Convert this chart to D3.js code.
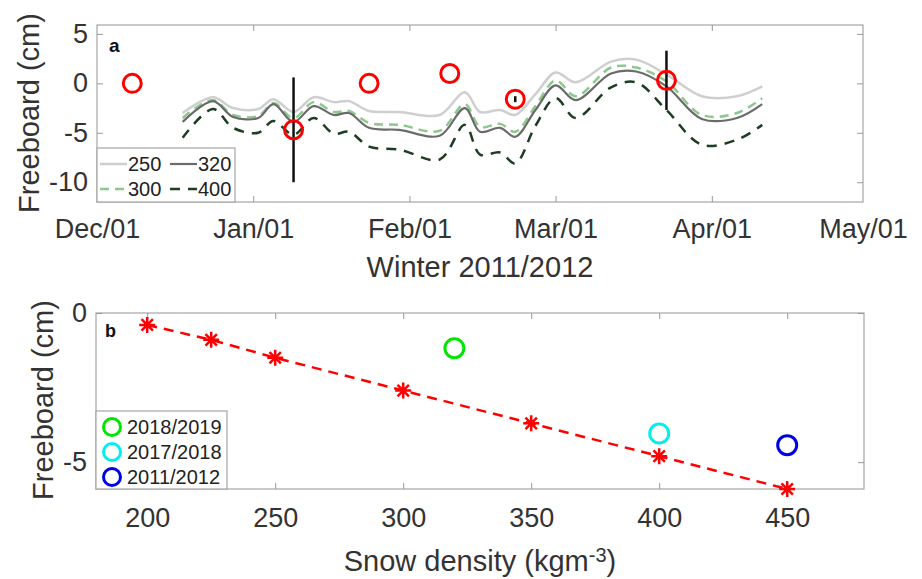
<!DOCTYPE html>
<html>
<head>
<meta charset="utf-8">
<script src="https://cdn.jsdelivr.net/npm/d3@7"></script>
<style>
  body { margin: 0; background: #fff; }
  svg { display: block; font-family: "Liberation Sans", Arial, sans-serif; }
  .tick text { fill: #333; }
  .tick line { stroke: #999; }
</style>
</head>
<body>
<svg id="chart" width="922" height="579"></svg>
<script>
// ---- panel a data ----
var dates = ["2011-12-18","2011-12-24","2011-12-28","2012-01-02","2012-01-05","2012-01-09",
  "2012-01-13","2012-01-17","2012-01-20","2012-01-24","2012-01-30","2012-02-07","2012-02-12",
  "2012-02-15","2012-02-19","2012-02-22","2012-02-26","2012-03-01","2012-03-05","2012-03-12",
  "2012-03-17","2012-03-23","2012-03-30","2012-04-06","2012-04-11"];
var fb250 = [-3.0,-1.4,-2.5,-2.6,-1.6,-2.9,-1.4,-1.9,-1.8,-2.8,-2.9,-3.2,-0.9,-2.9,-2.7,-3.2,-1.1,1.1,0.1,2.2,2.4,0.9,-1.3,-1.3,-0.3];
var fb300 = [-3.5,-1.7,-3.2,-3.3,-2.0,-3.5,-1.9,-2.9,-2.8,-4.0,-4.2,-4.8,-2.1,-4.4,-4.1,-4.9,-2.3,0.3,-1.3,1.6,1.6,0.2,-3.2,-3.0,-1.5];
var fb320 = [-3.9,-1.8,-3.4,-3.5,-2.1,-3.9,-2.3,-3.2,-3.0,-4.5,-4.7,-5.3,-2.5,-4.9,-4.5,-5.4,-2.7,-0.2,-1.7,1.0,1.2,-0.3,-3.6,-3.5,-2.1];
var fb400 = [-5.5,-2.6,-4.5,-5.0,-3.8,-5.2,-3.5,-5.1,-4.9,-6.4,-6.7,-7.7,-4.2,-7.2,-7.0,-8.1,-4.3,-1.5,-3.5,-0.4,0.1,-2.7,-6.2,-5.7,-4.2];

var obsDates = ["2011-12-08","2012-01-09","2012-01-24","2012-02-09","2012-02-22","2012-03-23"];
var obsFb = [0, -4.7, 0, 1.0, -1.6, 0.3];
var obsErr = [0, 5.3, 0, 0, 0.3, 3.0];

var monthTicks = ["2011-12-01","2012-01-01","2012-02-01","2012-03-01","2012-04-01","2012-05-01"];
var yTicksA = [5, 0, -5, -10];

// ---- panel b data ----
var densities = [200, 225, 250, 300, 350, 400, 450];
var densFb = [-0.4, -0.9, -1.5, -2.6, -3.7, -4.8, -5.9];
var seasons = ["2018/2019", "2017/2018", "2011/2012"];
var seasonDensity = [320, 400, 450];
var seasonFb = [-1.18, -4.04, -4.43];
var seasonColors = ["#00e600", "#00f0f0", "#0000e6"];
var xTicksB = [200, 250, 300, 350, 400, 450];
var yTicksB = [0, -5];

var parse = d3.timeParse("%Y-%m-%d");
var svg = d3.select("#chart");
var tickFont = 27;
var num = d => String(d); // plain hyphen minus, like the figure

function box(g, x0, x1, y0, y1) {
  g.append("rect")
    .attr("x", x0).attr("y", y0)
    .attr("width", x1 - x0).attr("height", y1 - y0)
    .attr("fill", "none").attr("stroke", "#a6a6a6").attr("stroke-width", 1.2);
}

// ================= panel a =================
var xa = d3.scaleTime()
  .domain([parse("2011-12-01"), parse("2012-05-01")])
  .range([97, 863]);
var ya = d3.scaleLinear().domain([-12, 5.9]).range([202, 25]);

var pa = svg.append("g");
box(pa, 97, 863, 25, 202);

var mt = monthTicks.map(parse);
var inner = mt.slice(1, -1);

pa.append("g").attr("transform", "translate(0,202)")
  .call(d3.axisBottom(xa).tickValues(mt).tickFormat(d3.timeFormat("%b/%d")).tickSize(-6).tickSizeOuter(0).tickPadding(17))
  .call(g => g.select(".domain").remove())
  .call(g => g.selectAll(".tick line").filter(d => inner.map(Number).indexOf(+d) < 0).remove())
  .selectAll("text").attr("font-size", tickFont);
pa.append("g").attr("transform", "translate(0,25)")
  .call(d3.axisTop(xa).tickValues(inner).tickFormat("").tickSize(-6).tickSizeOuter(0))
  .call(g => g.select(".domain").remove());
pa.append("g").attr("transform", "translate(97,0)")
  .call(d3.axisLeft(ya).tickValues(yTicksA).tickFormat(num).tickSize(-6).tickSizeOuter(0).tickPadding(9))
  .call(g => g.select(".domain").remove())
  .selectAll("text").attr("font-size", tickFont);
pa.append("g").attr("transform", "translate(863,0)")
  .call(d3.axisRight(ya).tickValues(yTicksA).tickFormat("").tickSize(-6).tickSizeOuter(0))
  .call(g => g.select(".domain").remove());

var seriesA = [
  {name: "250", vals: fb250, color: "#cfcfcf", dash: null, w: 2.5},
  {name: "300", vals: fb300, color: "#8fc88f", dash: "9,6", w: 2.5},
  {name: "320", vals: fb320, color: "#6b6b6b", dash: null, w: 2.2},
  {name: "400", vals: fb400, color: "#1f3d22", dash: "10,8", w: 2.5}
];
var ds = dates.map(parse);
var lineA = d3.line()
  .x((d, i) => xa(ds[i]))
  .y(d => ya(d))
  .curve(d3.curveCatmullRom.alpha(0.5));

pa.selectAll(".series")
  .data(seriesA)
  .enter().append("path")
  .attr("class", "series")
  .attr("d", d => lineA(d.vals))
  .attr("fill", "none")
  .attr("stroke", d => d.color)
  .attr("stroke-width", d => d.w)
  .attr("stroke-dasharray", d => d.dash);

var obs = obsDates.map((d, i) => ({date: parse(d), fb: obsFb[i], err: obsErr[i]}));
pa.selectAll(".err")
  .data(obs.filter(d => d.err > 0))
  .enter().append("line")
  .attr("x1", d => xa(d.date)).attr("x2", d => xa(d.date))
  .attr("y1", d => ya(d.fb + d.err)).attr("y2", d => ya(d.fb - d.err))
  .attr("stroke", "#111").attr("stroke-width", 2.5);
pa.selectAll(".obs")
  .data(obs)
  .enter().append("circle")
  .attr("cx", d => xa(d.date)).attr("cy", d => ya(d.fb))
  .attr("r", 9)
  .attr("fill", "none").attr("stroke", "#f00").attr("stroke-width", 3);

pa.append("text").attr("x", 109).attr("y", 52)
  .attr("font-size", 19).attr("font-weight", "bold").attr("fill", "#111").text("a");

// legend a
var lega = pa.append("g");
lega.append("rect").attr("x", 97).attr("y", 148).attr("width", 138).attr("height", 54)
  .attr("fill", "#fff").attr("stroke", "#a6a6a6").attr("stroke-width", 1.2);
var legOrder = [seriesA[0], seriesA[2], seriesA[1], seriesA[3]];
legOrder.forEach(function(s, i) {
  var cx = 100 + (i % 2) * 70, cy = 164 + Math.floor(i / 2) * 25;
  lega.append("line").attr("x1", cx).attr("x2", cx + 27).attr("y1", cy).attr("y2", cy)
    .attr("stroke", s.color).attr("stroke-width", s.w).attr("stroke-dasharray", s.dash);
  lega.append("text").attr("x", cx + 28).attr("y", cy + 7)
    .attr("font-size", 20).attr("fill", "#222").text(s.name);
});

pa.append("text").attr("x", 480).attr("y", 277).attr("text-anchor", "middle")
  .attr("font-size", 29).attr("fill", "#333").text("Winter 2011/2012");
pa.append("text").attr("transform", "translate(39,113) rotate(-90)").attr("text-anchor", "middle")
  .attr("font-size", 29).attr("fill", "#333").text("Freeboard (cm)");

// ================= panel b =================
var xb = d3.scaleLinear().domain([180, 480]).range([96, 864]);
var yb = d3.scaleLinear().domain([-5.9, 0]).range([489, 313]);

var pb = svg.append("g");
box(pb, 96, 864, 313, 489);

pb.append("g").attr("transform", "translate(0,489)")
  .call(d3.axisBottom(xb).tickValues(xTicksB).tickFormat(num).tickSize(-6).tickSizeOuter(0).tickPadding(19))
  .call(g => g.select(".domain").remove())
  .selectAll("text").attr("font-size", tickFont);
pb.append("g").attr("transform", "translate(0,313)")
  .call(d3.axisTop(xb).tickValues(xTicksB).tickFormat("").tickSize(-6).tickSizeOuter(0))
  .call(g => g.select(".domain").remove());
pb.append("g").attr("transform", "translate(96,0)")
  .call(d3.axisLeft(yb).tickValues(yTicksB).tickFormat(num).tickSize(-6).tickSizeOuter(0).tickPadding(9))
  .call(g => g.select(".domain").remove())
  .selectAll("text").attr("font-size", tickFont);
pb.append("g").attr("transform", "translate(864,0)")
  .call(d3.axisRight(yb).tickValues(yTicksB).tickFormat("").tickSize(-6).tickSizeOuter(0))
  .call(g => g.select(".domain").remove());

var lineB = d3.line().x((d, i) => xb(densities[i])).y(d => yb(d));
pb.append("path").attr("d", lineB(densFb))
  .attr("fill", "none").attr("stroke", "#f00").attr("stroke-width", 2.5).attr("stroke-dasharray", "10,7");

var star = "M0,-8V8M-8,0H8M-5.7,-5.7L5.7,5.7M-5.7,5.7L5.7,-5.7";
pb.selectAll(".star")
  .data(densFb)
  .enter().append("path")
  .attr("transform", (d, i) => "translate(" + xb(densities[i]) + "," + yb(d) + ")")
  .attr("d", star).attr("stroke", "#f00").attr("stroke-width", 2.5);

pb.selectAll(".season")
  .data(seasonFb)
  .enter().append("circle")
  .attr("cx", (d, i) => xb(seasonDensity[i])).attr("cy", d => yb(d))
  .attr("r", 9.5).attr("fill", "none")
  .attr("stroke", (d, i) => seasonColors[i]).attr("stroke-width", 3);

pb.append("text").attr("x", 105).attr("y", 337)
  .attr("font-size", 18).attr("font-weight", "bold").attr("fill", "#111").text("b");

// legend b
var legb = pb.append("g");
legb.append("rect").attr("x", 96).attr("y", 411).attr("width", 131).attr("height", 78)
  .attr("fill", "#fff").attr("stroke", "#a6a6a6").attr("stroke-width", 1.2);
seasons.forEach(function(s, i) {
  var cy = 427 + i * 25;
  legb.append("circle").attr("cx", 112).attr("cy", cy).attr("r", 8.5)
    .attr("fill", "none").attr("stroke", seasonColors[i]).attr("stroke-width", 3);
  legb.append("text").attr("x", 127).attr("y", cy + 7)
    .attr("font-size", 20).attr("fill", "#222").text(s);
});

var xl = pb.append("text").attr("x", 480).attr("y", 571).attr("text-anchor", "middle")
  .attr("font-size", 29).attr("fill", "#333");
xl.append("tspan").text("Snow density (kgm");
xl.append("tspan").attr("font-size", 20).attr("dy", -9).text("-3");
xl.append("tspan").attr("dy", 9).text(")");
pb.append("text").attr("transform", "translate(53,400) rotate(-90)").attr("text-anchor", "middle")
  .attr("font-size", 29).attr("fill", "#333").text("Freeboard (cm)");
</script>
</body>
</html>
